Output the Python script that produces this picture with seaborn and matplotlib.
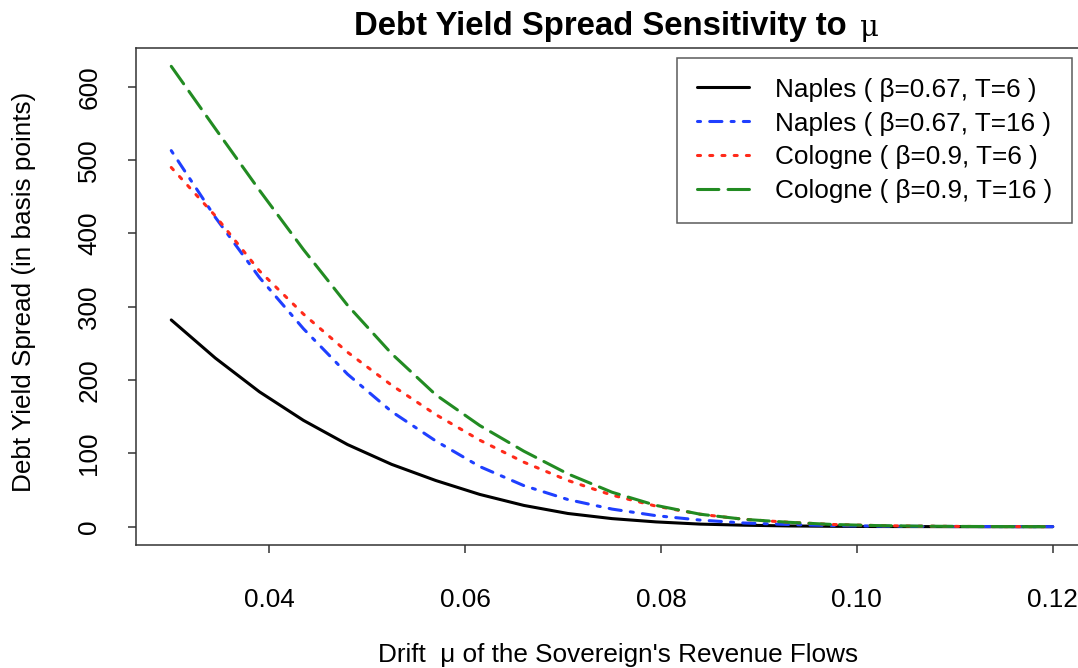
import numpy as np
import pandas as pd
import matplotlib
matplotlib.use("Agg")
import matplotlib.pyplot as plt
import seaborn as sns

# Drift grid (21 evaluation points) and spread in basis points for each case
mu = [0.03, 0.0345, 0.039, 0.0435, 0.048, 0.0525, 0.057, 0.0615, 0.066, 0.0705,
      0.075, 0.0795, 0.084, 0.0885, 0.093, 0.0975, 0.102, 0.1065, 0.111, 0.1155, 0.12]
naples_t6 = [282, 230, 184, 145, 112, 85, 63, 44, 29, 18, 11, 6.5, 3.5, 2, 1, 0.5,
             0.2, 0.1, 0, 0, 0]
naples_t16 = [513, 422, 340, 270, 208, 157, 117, 82, 56, 37, 24, 15, 9, 5, 3, 1.5,
              0.8, 0.4, 0.2, 0.1, 0]
cologne_t6 = [490, 424, 349, 290, 238, 193, 153, 118, 88, 63, 43, 28, 17, 10, 6, 3,
              1.5, 0.7, 0.3, 0.1, 0]
cologne_t16 = [628, 543, 459, 378, 302, 236, 180, 138, 103, 72, 47, 29, 17, 10, 6, 3,
               1.5, 0.7, 0.3, 0.1, 0]

labels = ["Naples ( \u03b2=0.67, T=6 )", "Naples ( \u03b2=0.67, T=16 )",
          "Cologne ( \u03b2=0.9, T=6 )", "Cologne ( \u03b2=0.9, T=16 )"]
series = [naples_t6, naples_t16, cologne_t6, cologne_t16]
colors = ["black", "#1f3fff", "#ff2a1a", "#228b22"]
dash_patterns = [None, (1, 3, 4, 3), (1, 3), (7, 3)]

x_ticks = [0.04, 0.06, 0.08, 0.10, 0.12]
x_tick_labels = ["0.04", "0.06", "0.08", "0.10", "0.12"]
y_ticks = [0, 100, 200, 300, 400, 500, 600]

sns.set_theme(style="white")
plt.rcParams["font.family"] = ["Liberation Sans", "DejaVu Sans"]
plt.rcParams["text.color"] = "black"
plt.rcParams["axes.labelcolor"] = "black"
plt.rcParams["xtick.color"] = "black"
plt.rcParams["ytick.color"] = "black"

FS = 18.8
W, H = 1078, 668
fig = plt.figure(figsize=(W / 100, H / 100), dpi=100)
ax = fig.add_axes([136 / W, 1 - 545 / H, (1088 - 136) / W, (545 - 48) / H])

df = pd.DataFrame({"mu": mu * 4,
                   "spread": sum(series, []),
                   "case": sum([[lab] * len(mu) for lab in labels], [])})

lw = 2.2
for lab, col, dp in zip(labels, colors, dash_patterns):
    sub = df[df["case"] == lab]
    sns.lineplot(data=sub, x="mu", y="spread", ax=ax, color=col, linewidth=lw,
                 label=lab, legend=False)
    line = ax.lines[-1]
    line.set_solid_capstyle("round")
    line.set_dash_capstyle("round")
    if dp is not None:
        line.set_dashes(dp)

ax.set_xlim(0.0264, 0.1236)
ax.set_ylim(-25, 653)
ax.set_xticks(x_ticks)
ax.set_xticklabels(x_tick_labels)
ax.set_yticks(y_ticks)
ax.set_yticklabels([str(v) for v in y_ticks], rotation=90, va="center")
ax.tick_params(axis="both", direction="out", length=6, width=1.1, color="#333333",
               labelsize=FS, labelcolor="black", bottom=True, left=True)
ax.tick_params(axis="x", pad=25)
ax.tick_params(axis="y", pad=19)
for s in ax.spines.values():
    s.set_visible(True)
    s.set_color("#333333")
    s.set_linewidth(1.1)
ax.set_xlabel("")
ax.set_ylabel("")

# Axis titles
fig.text(618 / W, 1 - 655 / H, "Drift  \u03bc of the Sovereign's Revenue Flows",
         ha="center", va="center", fontsize=FS)
fig.text(24 / W, 1 - 292 / H, "Debt Yield Spread (in basis points)",
         ha="center", va="center", rotation=90, fontsize=FS)

# Title: bold text followed by a plain Greek mu
t = fig.text(600 / W, 1 - 26 / H, "Debt Yield Spread Sensitivity to",
             ha="center", va="center", fontsize=23.7, fontweight="bold")
ax.annotate("\u03bc", xy=(1, 0), xycoords=t, xytext=(10, 0), textcoords="offset points",
            fontsize=21, family=["DejaVu Serif"], va="bottom", ha="left",
            annotation_clip=False)

leg = ax.legend(loc="upper right", bbox_to_anchor=(1072 / W, 1 - 58 / H),
                bbox_transform=fig.transFigure, fontsize=FS, frameon=True,
                fancybox=False, edgecolor="#333333", handlelength=2.0,
                handletextpad=1.0, borderpad=0.75, labelspacing=0.38,
                borderaxespad=0)
leg.get_frame().set_linewidth(1.1)
for hl in leg.get_lines():
    hl.set_linewidth(lw)

fig.savefig("out.png", dpi=100)
